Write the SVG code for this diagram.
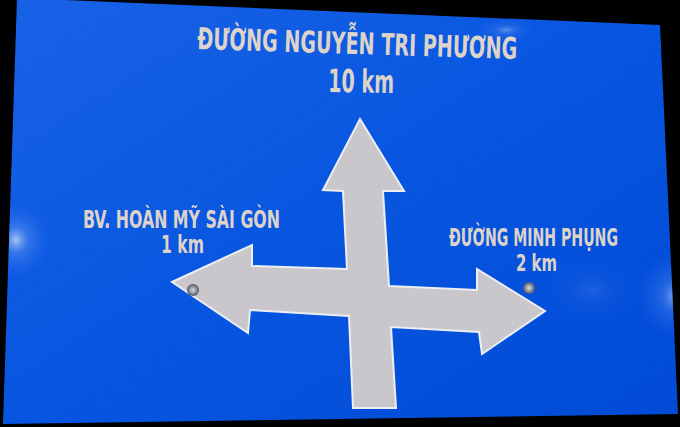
<svg xmlns="http://www.w3.org/2000/svg" width="680" height="427" viewBox="0 0 680 427">
  <defs>
    <linearGradient id="blue" x1="0" y1="0" x2="1" y2="1">
      <stop offset="0" stop-color="#1862e6"/>
      <stop offset="0.5" stop-color="#0856e0"/>
      <stop offset="1" stop-color="#004ad6"/>
    </linearGradient>
    <radialGradient id="glare">
      <stop offset="0" stop-color="#ffffff" stop-opacity="0.85"/>
      <stop offset="0.35" stop-color="#9fc0ff" stop-opacity="0.35"/>
      <stop offset="1" stop-color="#3a7cff" stop-opacity="0"/>
    </radialGradient>
    <radialGradient id="bolt">
      <stop offset="0" stop-color="#d8dce4"/>
      <stop offset="0.6" stop-color="#8a919c"/>
      <stop offset="1" stop-color="#4a5260"/>
    </radialGradient>
    <clipPath id="signClip">
      <polygon points="17,-2 660,25 678,414 3,424"/>
    </clipPath>
  </defs>
  <style>
    .lbl { fill: #ddd3c9; font-family: "DejaVu Sans Condensed", "Liberation Sans Narrow", "Liberation Sans", sans-serif; font-weight: bold; }
    .arrow { fill: #c9c7cb; stroke: #eceef4; stroke-width: 2; stroke-linejoin: miter; }
  </style>
  <rect x="0" y="0" width="680" height="427" fill="#000"/>
  <g id="sign">
    <polygon points="17,-2 660,25 678,414 3,424" fill="url(#blue)"/>
    <g clip-path="url(#signClip)">
      <ellipse cx="16" cy="240" rx="34" ry="38" fill="url(#glare)" opacity="0.75"/>
      <ellipse cx="676" cy="296" rx="40" ry="44" fill="url(#glare)" opacity="0.6"/>
      <ellipse cx="506" cy="30" rx="30" ry="12" fill="url(#glare)" opacity="0.4"/>
      <ellipse cx="592" cy="290" rx="60" ry="40" fill="url(#glare)" opacity="0.12"/>
    </g>
  </g>
  <g id="arrows">
    <polygon class="arrow" points="360,119 404,191 383,191 389,286 477,290 477,269 545,311 482,354 479,332 391,327 396,408 353,408 349,316 250,310 248,333 172,282 252,245 252,266 347,269 343,191 323,190"/>
    <circle cx="193" cy="290" r="6" fill="url(#bolt)"/>
    <circle cx="529" cy="288" r="6" fill="url(#bolt)"/>
  </g>
  <g id="north">
    <text class="lbl" x="197" y="49" font-size="30" textLength="320" lengthAdjust="spacingAndGlyphs" transform="rotate(1.8 197 49)">ĐƯỜNG NGUYỄN TRI PHƯƠNG</text>
    <text class="lbl" x="328" y="92" font-size="32" textLength="66" lengthAdjust="spacingAndGlyphs" transform="rotate(1 328 92)">10 km</text>
  </g>
  <g id="west">
    <text class="lbl" x="83" y="228" font-size="25" textLength="197" lengthAdjust="spacingAndGlyphs">BV. HOÀN MỸ SÀI GÒN</text>
    <text class="lbl" x="161" y="253" font-size="25" textLength="43" lengthAdjust="spacingAndGlyphs">1 km</text>
  </g>
  <g id="east">
    <text class="lbl" x="449" y="246" font-size="24" textLength="169" lengthAdjust="spacingAndGlyphs">ĐƯỜNG MINH PHỤNG</text>
    <text class="lbl" x="516" y="271" font-size="23" textLength="41" lengthAdjust="spacingAndGlyphs">2 km</text>
  </g>
</svg>
